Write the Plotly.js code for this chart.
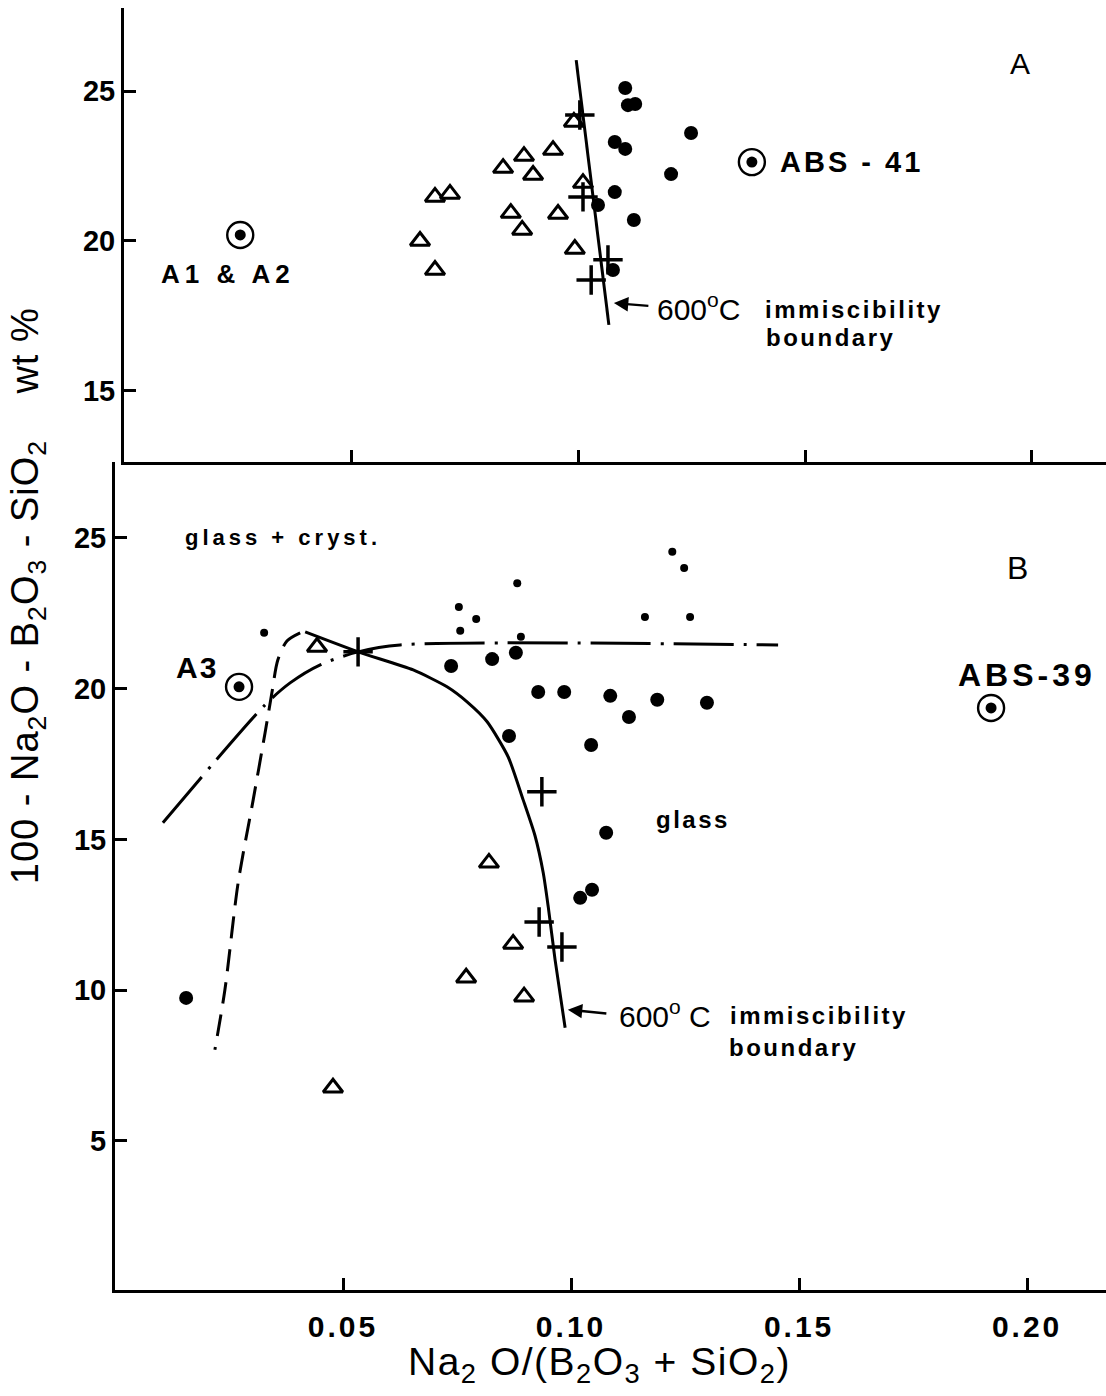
<!DOCTYPE html>
<html>
<head>
<meta charset="utf-8">
<script src="https://cdn.plot.ly/plotly-3.0.1.min.js"></script>
<style>html,body{margin:0;padding:0;background:#fff;}#chart{width:1106px;height:1396px;}</style>
</head>
<body>
<div id="chart"></div>
<script>
// ---------- DATA (panel A, top) ----------
const topTriX = [0.0991, 0.0945, 0.0881, 0.0835, 0.0901, 0.1011, 0.0718, 0.0685, 0.0852, 0.0956, 0.0877, 0.0652, 0.0993, 0.0685];
const topTriY = [23.97, 23.03, 22.83, 22.43, 22.20, 21.93, 21.57, 21.47, 20.93, 20.90, 20.37, 20.00, 19.73, 19.03];
const topDotX = [0.1104, 0.1110, 0.1126, 0.1249, 0.1081, 0.1104, 0.1205, 0.1081, 0.1044, 0.1123, 0.1077];
const topDotY = [25.10, 24.53, 24.57, 23.60, 23.30, 23.07, 22.23, 21.63, 21.20, 20.70, 19.03];
const topCrossX = [0.1004, 0.1011, 0.1066, 0.1029];
const topCrossY = [24.20, 21.47, 19.37, 18.70];
const topLineX = [0.0996, 0.1068];
const topLineY = [26.03, 17.20];
const topRefX = [0.0256, 0.1383];
const topRefY = [20.20, 22.63];

// ---------- DATA (panel B, bottom) ----------
const botSmallX = [0.1222, 0.1248, 0.0882, 0.0754, 0.0792, 0.0757, 0.1162, 0.1261, 0.0890, 0.0327];
const botSmallY = [24.54, 24.00, 23.50, 22.71, 22.31, 21.92, 22.38, 22.38, 21.72, 21.85];
const botDotX = [0.0737, 0.0827, 0.0879, 0.0928, 0.0985, 0.1086, 0.1189, 0.1298, 0.1127, 0.0864, 0.1044, 0.1077, 0.1020, 0.1046, 0.0156];
const botDotY = [20.75, 20.98, 21.19, 19.89, 19.89, 19.76, 19.63, 19.53, 19.06, 18.43, 18.13, 15.22, 13.06, 13.33, 9.74];
const botCrossX = [0.0533, 0.0936, 0.0930, 0.0980];
const botCrossY = [21.22, 16.58, 12.26, 11.43];
const botTriX = [0.0443, 0.0820, 0.0873, 0.0770, 0.0897, 0.0478];
const botTriY = [21.38, 14.22, 11.53, 10.41, 9.78, 6.76];
const botRefX = [0.0272, 0.1921];
const botRefY = [20.06, 19.36];
const solidX = [0.0417, 0.0533, 0.0654, 0.0728, 0.0772, 0.0816, 0.0862, 0.0895, 0.0921, 0.0939, 0.0950, 0.0965, 0.0987];
const solidY = [21.88, 21.22, 20.62, 20.06, 19.56, 18.90, 17.74, 16.31, 15.12, 13.89, 12.76, 11.00, 8.75];
const dashX = [0.0406, 0.0377, 0.0357, 0.0344, 0.0329, 0.0303, 0.0270, 0.0241, 0.0219];
const dashY = [21.85, 21.58, 20.95, 19.86, 18.53, 16.31, 13.56, 10.01, 8.02];
const dashDotX = [0.0105, 0.0329, 0.0384, 0.0450, 0.0533, 0.0625, 0.1454];
const dashDotY = [15.55, 19.46, 20.19, 20.79, 21.22, 21.45, 21.45];

// ---------- TICKS ----------
const xTickVals = [0.05, 0.10, 0.15, 0.20];
const xTickText = ['0.05', '0.10', '0.15', '0.20'];
const yTopTicks = [15, 20, 25];
const yBotTicks = [5, 10, 15, 20, 25];

const FONT = 'Liberation Sans, Arial, Helvetica, sans-serif';
const K = '#000';
const sp = (t, ls) => '<span style="letter-spacing:' + ls + 'px">' + t + '</span>';

function tri(x, y, xa, ya) {
  return {x, y, xaxis: xa, yaxis: ya, type: 'scatter', mode: 'markers', hoverinfo: 'skip',
    marker: {symbol: 'triangle-up-open', size: 17, color: K, line: {color: K, width: 3}}};
}
function dots(x, y, xa, ya, size) {
  return {x, y, xaxis: xa, yaxis: ya, type: 'scatter', mode: 'markers', hoverinfo: 'skip',
    marker: {symbol: 'circle', size: size, color: K, line: {width: 0}}};
}
function crosses(x, y, xa, ya) {
  return {x, y, xaxis: xa, yaxis: ya, type: 'scatter', mode: 'markers', hoverinfo: 'skip',
    marker: {symbol: 'cross-thin', size: 21, color: K, line: {color: K, width: 3.5}}};
}
function ring(x, y, xa, ya) {
  return {x, y, xaxis: xa, yaxis: ya, type: 'scatter', mode: 'markers', hoverinfo: 'skip',
    marker: {symbol: 'circle-open', size: 26, color: K, line: {color: K, width: 2.4}}};
}
function line(x, y, xa, ya, dash, shape, sm) {
  return {x, y, xaxis: xa, yaxis: ya, type: 'scatter', mode: 'lines', hoverinfo: 'skip',
    line: {color: K, width: 3, dash: dash, shape: shape || 'linear', smoothing: sm || 0.8}};
}

const data = [
  // top panel
  line(topLineX, topLineY, 'x2', 'y2', 'solid'),
  tri(topTriX, topTriY, 'x2', 'y2'),
  dots(topDotX, topDotY, 'x2', 'y2', 14),
  crosses(topCrossX, topCrossY, 'x2', 'y2'),
  ring(topRefX, topRefY, 'x2', 'y2'),
  dots(topRefX, topRefY, 'x2', 'y2', 11),
  // bottom panel
  line(solidX, solidY, 'x', 'y', 'solid', 'spline', 0.6),
  line(dashX, dashY, 'x', 'y', '22px,11px', 'spline', 0.8),
  line(dashDotX, dashDotY, 'x', 'y', '60px,10px,3px,10px', 'spline', 0.8),
  dots(botSmallX, botSmallY, 'x', 'y', 8),
  dots(botDotX, botDotY, 'x', 'y', 14),
  tri(botTriX, botTriY, 'x', 'y'),
  crosses(botCrossX, botCrossY, 'x', 'y'),
  ring(botRefX, botRefY, 'x', 'y'),
  dots(botRefX, botRefY, 'x', 'y', 11)
];

const axisCommon = {
  showline: true, linecolor: K, linewidth: 3, mirror: false,
  ticks: 'inside', ticklen: 12, tickwidth: 3, tickcolor: K,
  showgrid: false, zeroline: false, fixedrange: true,
  tickfont: {family: FONT, size: 29, color: K, weight: 700}
};

function txt(x, y, xref, yref, text, size, bold, anchor) {
  return {x, y, xref, yref, text, showarrow: false, xanchor: anchor || 'center', yanchor: 'middle',
    font: {family: FONT, size: size, color: K, weight: bold ? 700 : 400}};
}
function arrow(x, y, xref, yref, ax, ay) {
  return {x, y, xref, yref, ax, ay, axref: 'pixel', ayref: 'pixel', text: '', showarrow: true,
    arrowhead: 2, arrowsize: 1.2, arrowwidth: 2.4, arrowcolor: K, standoff: 0};
}

const layout = {
  width: 1106, height: 1396,
  margin: {l: 115, r: 0, t: 8, b: 106},
  paper_bgcolor: '#fff', plot_bgcolor: '#fff',
  showlegend: false,
  xaxis: Object.assign({}, axisCommon, {domain: [0, 1], range: [0, 0.2173], anchor: 'y',
    tickvals: xTickVals, ticktext: xTickText.map(t => sp(t, 3)), ticklabelstandoff: 8,
    tickfont: {family: FONT, size: 30, color: K, weight: 700}}),
  yaxis: Object.assign({}, axisCommon, {domain: [0, 0.6459], range: [0.05, 27.52], anchor: 'x',
    tickvals: yBotTicks, ticktext: yBotTicks.map(String)}),
  xaxis2: Object.assign({}, axisCommon, {domain: [0.0091, 1], range: [0, 0.2163], anchor: 'y2',
    tickvals: xTickVals, showticklabels: false}),
  yaxis2: Object.assign({}, axisCommon, {domain: [0.6459, 1], range: [12.63, 27.77], anchor: 'x2',
    tickvals: yTopTicks, ticktext: yTopTicks.map(String)}),
  annotations: [
    // axis titles
    txt(0.4884, -0.0585, 'paper', 'paper',
      sp('Na<sub>2</sub> O/(B<sub>2</sub>O<sub>3</sub> + SiO<sub>2</sub>)', 1.5), 39, false),
    Object.assign(txt(-0.0878, 0.542, 'paper', 'paper',
      sp('100 - Na<sub>2</sub>O - B<sub>2</sub>O<sub>3</sub> - SiO<sub>2</sub>    wt %', 1), 38, false), {textangle: -90}),
    // top panel labels
    txt(0.1974, 25.93, 'x2', 'y2', 'A', 30, false),
    txt(0.0229, 18.90, 'x2', 'y2', sp('A1 &amp; A2', 5), 26, true),
    txt(0.1440, 22.62, 'x2', 'y2', sp('ABS - 41', 3), 29, true, 'left'),
    txt(0.1170, 17.80, 'x2', 'y2', '600<sup>o</sup>C', 30, false, 'left'),
    txt(0.1407, 17.70, 'x2', 'y2', sp('immiscibility', 2.5), 24, true, 'left'),
    txt(0.1410, 16.77, 'x2', 'y2', sp('boundary', 2.5), 24, true, 'left'),
    arrow(0.1079, 17.93, 'x2', 'y2', 36, 3),
    // bottom panel labels
    txt(0.1980, 24.00, 'x', 'y', 'B', 32, false),
    txt(0.0368, 25.03, 'x', 'y', sp('glass + cryst.', 4), 22, true),
    txt(0.0180, 20.69, 'x', 'y', sp('A3', 2), 30, true),
    txt(0.2000, 20.46, 'x', 'y', sp('ABS-39', 4), 32, true),
    txt(0.1268, 15.65, 'x', 'y', sp('glass', 2.5), 24, true),
    txt(0.1101, 9.21, 'x', 'y', '600<sup>o</sup> C', 30, false, 'left'),
    txt(0.1344, 9.15, 'x', 'y', sp('immiscibility', 2.5), 24, true, 'left'),
    txt(0.1342, 8.08, 'x', 'y', sp('boundary', 2.5), 24, true, 'left'),
    arrow(0.0993, 9.35, 'x', 'y', 40, 4)
  ]
};

Plotly.newPlot('chart', data, layout, {staticPlot: true, displayModeBar: false});
</script>
</body>
</html>
